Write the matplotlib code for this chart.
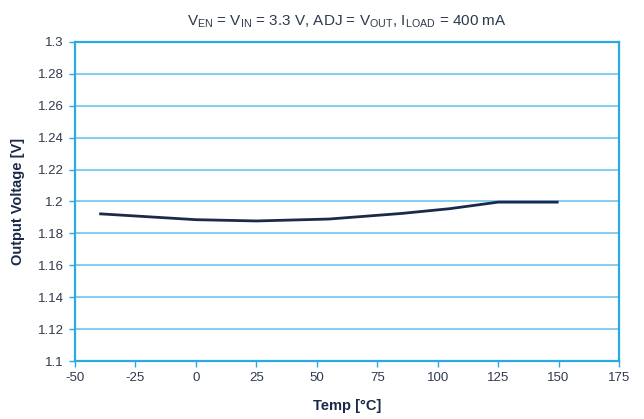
import matplotlib
matplotlib.use("Agg")
import matplotlib.pyplot as plt

# Output voltage vs temperature
temp_c = [-40, 0, 25, 55, 85, 105, 125, 150]
vout = [1.1923, 1.1886, 1.1878, 1.1890, 1.1925, 1.1955, 1.1996, 1.1996]

x_ticks = [-50, -25, 0, 25, 50, 75, 100, 125, 150, 175]
y_ticks = [1.1, 1.12, 1.14, 1.16, 1.18, 1.2, 1.22, 1.24, 1.26, 1.28, 1.3]

BLUE_AXIS = "#29ABE2"
BLUE_GRID = "#6EC6EE"
NAVY = "#1B2A4A"
TEXT = "#2E3A4C"

plt.rcParams["font.family"] = ["Liberation Sans", "DejaVu Sans"]
plt.rcParams["mathtext.fontset"] = "custom"
plt.rcParams["mathtext.rm"] = "Liberation Sans"

fig = plt.figure(figsize=(6.44, 4.19), dpi=100)
ax = fig.add_axes([0.1165, 0.1384, 0.8447, 0.7614])

ax.plot(temp_c, vout, color=NAVY, linewidth=2, solid_capstyle="butt")

ax.set_xlim(-50, 175)
ax.set_ylim(1.1, 1.3)
ax.set_xticks(x_ticks)
ax.set_xticklabels([str(t) for t in x_ticks])
ax.set_yticks(y_ticks)
ax.set_yticklabels([f"{v:g}" for v in y_ticks])

ax.yaxis.grid(True, color=BLUE_GRID, linewidth=1.2)
ax.set_axisbelow(True)
for sp in ax.spines.values():
    sp.set_color(BLUE_AXIS)
    sp.set_linewidth(1.6)

ax.tick_params(axis="both", colors=BLUE_AXIS, length=4, width=1, labelsize=9.5,
               labelcolor=TEXT, pad=4)

ax.set_xlabel("Temp [°C]", fontsize=10.5, fontweight="bold", color=NAVY, labelpad=11)
ax.set_ylabel("Output Voltage [V]", fontsize=10.5, fontweight="bold", color=NAVY, labelpad=9)

title = (r"V$_{\mathrm{EN}}$ = V$_{\mathrm{IN}}$ = 3.3 V, ADJ = V$_{\mathrm{OUT}}$, "
         r"I$_{\mathrm{LOAD}}$ = 400 mA")
ax.set_title(title, fontsize=11, color=TEXT, pad=12)

fig.savefig("out.png", dpi=100)
